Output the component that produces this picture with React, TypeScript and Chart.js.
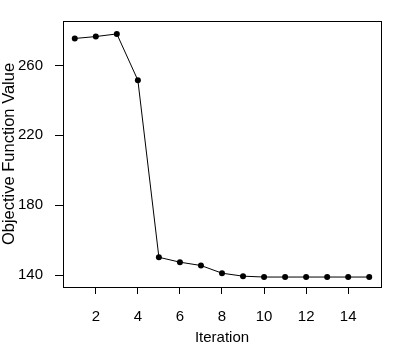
import React, { useEffect, useRef } from "react";
import { Chart, registerables } from "chart.js";

Chart.register(...registerables);

const iterations = [1, 2, 3, 4, 5, 6, 7, 8, 9, 10, 11, 12, 13, 14, 15];
const objectiveValues = [275.4, 276.5, 278.0, 251.5, 150.2, 147.4, 145.5, 141.1, 139.4, 138.9, 138.9, 138.9, 138.9, 138.9, 138.9];
const xTicks = [2, 4, 6, 8, 10, 12, 14];
const yTicks = [140, 180, 220, 260];

const FONT = "'Liberation Sans', Arial, sans-serif";

const boxPlugin = {
  id: "rbox",
  afterDraw(chart: any) {
    const { ctx, chartArea } = chart;
    ctx.save();
    ctx.strokeStyle = "#000";
    ctx.lineWidth = 1;
    const l = Math.round(chartArea.left) + 0.5;
    const t = Math.round(chartArea.top) + 0.5;
    const r = Math.round(chartArea.right) + 0.5;
    const b = Math.round(chartArea.bottom) + 0.5;
    ctx.strokeRect(l, t, r - l, b - t);
    ctx.restore();
  },
};

export default function App() {
  const ref = useRef<HTMLCanvasElement | null>(null);
  useEffect(() => {
    if (!ref.current) return;
    const chart = new Chart(ref.current, {
      type: "line",
      data: {
        datasets: [
          {
            data: iterations.map((x, i) => ({ x, y: objectiveValues[i] })),
            borderColor: "#000",
            backgroundColor: "#000",
            borderWidth: 1,
            pointRadius: 3,
            pointBorderWidth: 0,
            pointBackgroundColor: "#000",
            tension: 0,
          },
        ],
      },
      options: {
        animation: false,
        responsive: false,
        maintainAspectRatio: false,
        layout: { padding: { top: 20, right: 19, left: 0, bottom: 0 } },
        plugins: { legend: { display: false }, tooltip: { enabled: false } },
        scales: {
          x: {
            type: "linear",
            min: 0.44,
            max: 15.56,
            afterBuildTicks: (s: any) => {
              s.ticks = xTicks.map((v) => ({ value: v }));
            },
            afterFit: (s: any) => {
              s.height = 58;
            },
            border: { display: false },
            grid: { display: true, drawOnChartArea: false, drawTicks: true, tickLength: 7, color: "#000", lineWidth: 1 },
            ticks: { color: "#000", font: { family: FONT, size: 15 }, padding: 14, maxRotation: 0, autoSkip: false },
            title: { display: true, text: "Iteration", color: "#000", font: { family: FONT, size: 15, lineHeight: 1 }, padding: { top: 0, bottom: 0 } },
          },
          y: {
            type: "linear",
            min: 133.2,
            max: 285.4,
            afterBuildTicks: (s: any) => {
              s.ticks = yTicks.map((v) => ({ value: v }));
            },
            afterFit: (s: any) => {
              s.width = 63;
            },
            border: { display: false },
            grid: { display: true, drawOnChartArea: false, drawTicks: true, tickLength: 8, color: "#000", lineWidth: 1 },
            ticks: { color: "#000", font: { family: FONT, size: 15 }, padding: 12, autoSkip: false },
            title: { display: true, text: "Objective Function Value", color: "#000", font: { family: FONT, size: 16.5 }, padding: { top: 0, bottom: 0 } },
          },
        },
      },
      plugins: [boxPlugin],
    } as any);
    return () => chart.destroy();
  }, []);
  return (
    <div style={{ position: "absolute", left: 0, top: 0, width: 400, height: 345, background: "#fff" }}>
      <canvas ref={ref} width={400} height={345} style={{ width: 400, height: 345, display: "block" }} />
    </div>
  );
}
